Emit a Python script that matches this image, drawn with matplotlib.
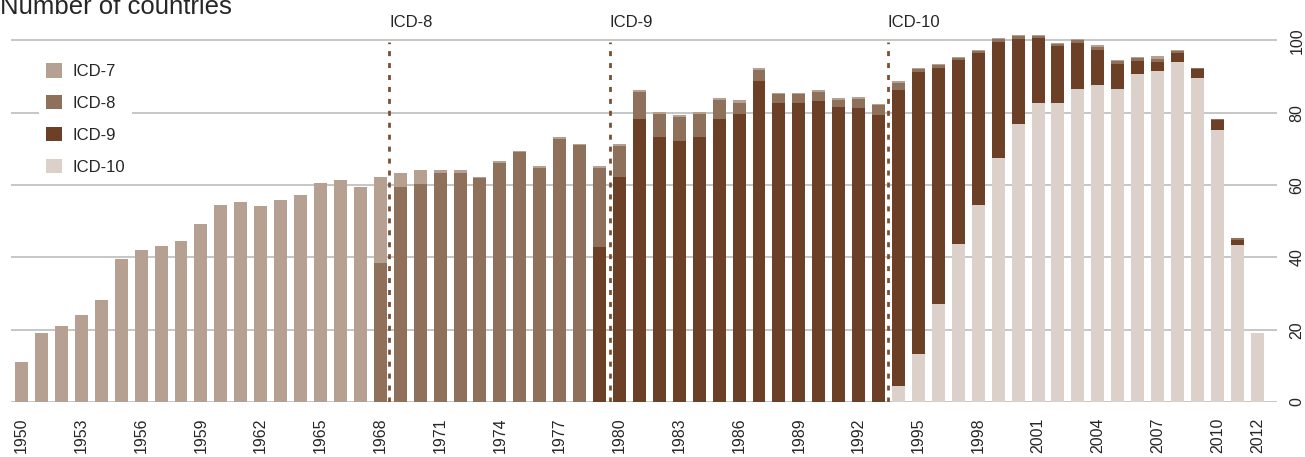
import matplotlib

matplotlib.use("Agg")

import matplotlib.pyplot as plt
import numpy as np
from matplotlib.patches import Patch

# one bar per year, stacked bottom-up: ICD-10, ICD-9, ICD-8, ICD-7
years = np.arange(1950, 2013)

icd7 = [
    11.0, 19.1, 21.0, 24.1, 28.2, 39.6, 42.0, 43.2, 44.5, 49.2,
    54.5, 55.3, 54.2, 55.9, 57.3, 60.6, 61.4, 59.5,
    23.7, 3.8, 3.9, 0.9, 0.9, 0.4, 0.6, 0.4, 0.6, 0.5, 0.4,
    0.6, 0.6, 0.6, 0.5, 0.6, 0.5, 0.6, 0.8, 0.6, 0.3, 0.3, 0.6, 0.6, 0.6, 0.3,
    0.6, 0.3, 0.3, 0.3, 0.3, 0.3, 0.3, 0.3, 0.3, 0.3, 0.6, 0.3, 0.3, 0.8, 0.3,
    0, 0, 0, 0,
]
icd8 = [0] * 18 + [
    38.5, 59.5, 60.3, 63.3, 63.3, 61.9, 66.1, 69.1, 64.7, 72.8, 71.1,
    21.8, 8.6, 7.4, 6.4, 6.6, 6.4, 5.2, 3.0, 3.0, 2.5, 2.5, 2.4, 1.9, 2.5, 2.7,
    1.9, 0.8, 0.8, 0.5, 0.6, 0.8, 0.8, 0.5, 0.5, 0.8, 0.8, 0.8, 0.8, 0.8, 0.6,
    0.3, 0.3, 0.6, 0,
]
icd9 = [0] * 29 + [
    42.9, 62.2, 78.3, 73.3, 72.2, 73.3, 78.3, 79.7, 88.8, 82.7, 82.7, 83.3, 81.6, 81.3, 79.4,
    81.9, 78.0, 65.3, 50.9, 42.0, 32.1, 23.5, 18.0, 15.8, 12.7, 9.7, 6.9, 3.6, 2.5, 2.4,
    2.5, 2.8, 1.4, 0,
]
icd10 = [0] * 44 + [
    4.4, 13.3, 27.1, 43.7, 54.5, 67.5, 76.9, 82.7, 82.7, 86.6, 87.7, 86.6, 90.7, 91.6, 94.1,
    89.6, 75.2, 43.4, 19.1,
]

revision_labels = ["ICD-8", "ICD-9", "ICD-10"]
revision_breaks = [1968.45, 1979.5, 1993.45]

tick_years = list(range(1950, 2011, 3)) + [2012]
y_ticks = [0, 20, 40, 60, 80, 100]

COLORS = {
    "ICD-7": "#b5a091",
    "ICD-8": "#8f705a",
    "ICD-9": "#6b4026",
    "ICD-10": "#dbd0ca",
}
FONT = ["Liberation Sans", "DejaVu Sans"]
TEXT = "#262626"

W, H = 1305, 457
fig = plt.figure(figsize=(W / 100, H / 100), dpi=100)
ax = fig.add_axes([11 / W, 55 / H, 1266 / W, 379.6 / H])

series = [("ICD-10", icd10), ("ICD-9", icd9), ("ICD-8", icd8), ("ICD-7", icd7)]
bottom = np.zeros(len(years))
for name, values in series:
    values = np.asarray(values, dtype=float)
    ax.bar(years, values, width=0.65, bottom=bottom, color=COLORS[name], linewidth=0, zorder=2)
    bottom += values

for label, x in zip(revision_labels, revision_breaks):
    ax.vlines(x, 0, 99.5, colors="#7a5034", linewidth=2.0, linestyles=(0, (1.8, 2.5)), zorder=3)
    ax.text(x, 103.8, label, ha="left", va="baseline", fontsize=12, family=FONT, color=TEXT)

ax.set_xlim(1949.47, 2012.99)
ax.set_ylim(0, 105)
ax.set_xticks(tick_years, [str(y) for y in tick_years])
ax.set_yticks(y_ticks, [str(v) for v in y_ticks])
ax.yaxis.tick_right()
ax.tick_params(axis="x", length=0, pad=11, labelrotation=90, labelsize=11.5, colors=TEXT)
ax.tick_params(axis="y", length=0, pad=9, labelrotation=90, labelsize=11.5, colors=TEXT)
for lab in ax.get_xticklabels() + ax.get_yticklabels():
    lab.set_family(FONT)
for lab in ax.get_yticklabels():
    lab.set_verticalalignment("center")

ax.set_axisbelow(True)
ax.yaxis.grid(True, color="#c6c6c6", linewidth=1.4)
for spine in ax.spines.values():
    spine.set_visible(False)

handles = [Patch(facecolor=COLORS[n], edgecolor="none") for n in ("ICD-7", "ICD-8", "ICD-9", "ICD-10")]
legend = ax.legend(
    handles, ["ICD-7", "ICD-8", "ICD-9", "ICD-10"],
    loc="upper left", bbox_to_anchor=(38.5 / W, 1 - 55.5 / H), bbox_transform=fig.transFigure,
    prop={"family": FONT, "size": 12}, frameon=True, facecolor="white", edgecolor="none",
    framealpha=1, fancybox=False, borderpad=0.45, handlelength=0.97, handleheight=0.97,
    handletextpad=0.6, labelspacing=0.95, borderaxespad=0,
)
for t in legend.get_texts():
    t.set_color(TEXT)

fig.text(0, 1 - 14 / H, "Number of countries", ha="left", va="baseline", fontsize=18.5, color=TEXT,
         family=FONT)

fig.savefig("out.png", dpi=100)
